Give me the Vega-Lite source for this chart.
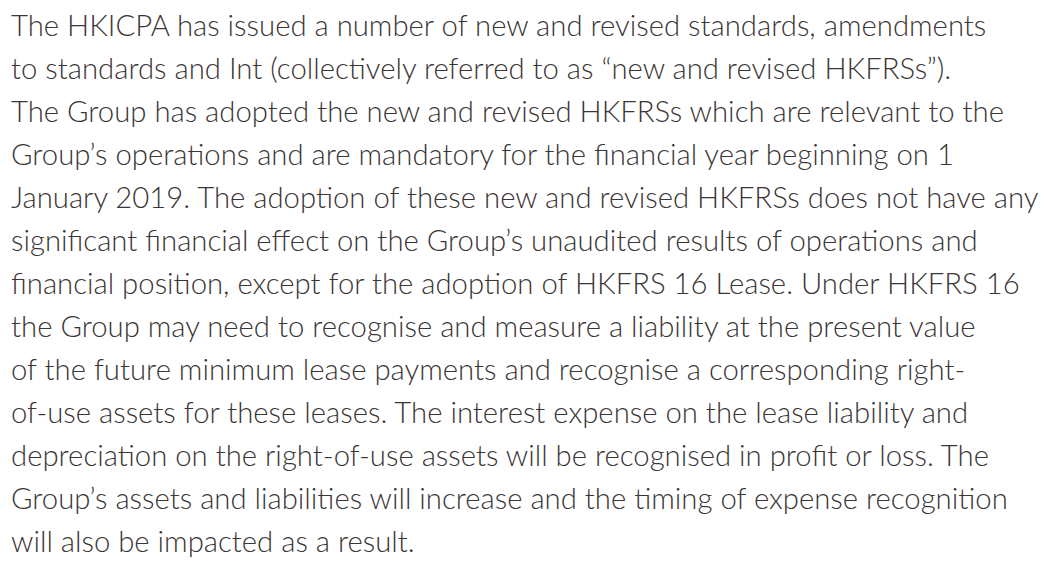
{
  "$schema": "https://vega.github.io/schema/vega-lite/v6.json",
  "width": 1057,
  "height": 568,
  "autosize": {"type": "fit", "contains": "padding"},
  "padding": 0,
  "background": "white",
  "config": {"view": {"stroke": null}},
  "data": {
    "values": [
      {"line": 1, "text": "The HKICPA has issued a number of new and revised standards, amendments"},
      {"line": 2, "text": "to standards and Int (collectively referred to as “new and revised HKFRSs”)."},
      {"line": 3, "text": "The Group has adopted the new and revised HKFRSs which are relevant to the"},
      {"line": 4, "text": "Group’s operations and are mandatory for the financial year beginning on 1"},
      {"line": 5, "text": "January 2019. The adoption of these new and revised HKFRSs does not have any"},
      {"line": 6, "text": "significant financial effect on the Group’s unaudited results of operations and"},
      {"line": 7, "text": "financial position, except for the adoption of HKFRS 16 Lease. Under HKFRS 16"},
      {"line": 8, "text": "the Group may need to recognise and measure a liability at the present value"},
      {"line": 9, "text": "of the future minimum lease payments and recognise a corresponding right-"},
      {"line": 10, "text": "of-use assets for these leases. The interest expense on the lease liability and"},
      {"line": 11, "text": "depreciation on the right-of-use assets will be recognised in profit or loss. The"},
      {"line": 12, "text": "Group’s assets and liabilities will increase and the timing of expense recognition"},
      {"line": 13, "text": "will also be impacted as a result."}
    ]
  },
  "mark": {
    "type": "text",
    "align": "left",
    "baseline": "alphabetic",
    "font": "Lato",
    "fontWeight": 300,
    "fontSize": 29.3,
    "color": "#3b3535"
  },
  "encoding": {
    "x": {"datum": 0, "type": "quantitative", "scale": {"domain": [-11, 1046]}, "axis": null},
    "y": {"field": "line", "type": "quantitative", "scale": {"domain": [0.1628, 13.372], "reverse": true, "nice": false, "zero": false}, "axis": null},
    "text": {"field": "text"}
  }
}
